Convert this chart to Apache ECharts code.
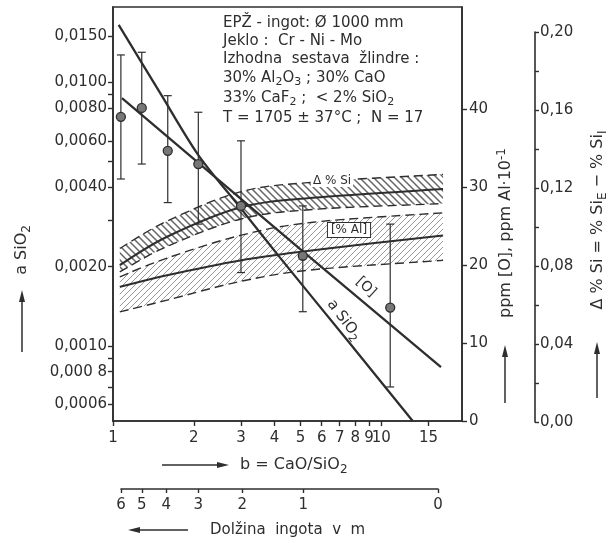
<!DOCTYPE html>
<html>
<head>
<meta charset="utf-8">
<script src="https://cdn.jsdelivr.net/npm/echarts@6/dist/echarts.min.js"></script>
<style>
html, body { margin: 0; padding: 0; background: #fff; }
#chart { width: 615px; height: 543px; }
</style>
</head>
<body>
<div id="chart"></div>
<script>
// axis ticks / labels
var bTicks = [1, 2, 3, 4, 5, 6, 7, 8, 9, 10, 15];
var aTicks = [0.0006, 0.0007, 0.0008, 0.0009, 0.001, 0.002, 0.003, 0.004, 0.005, 0.006, 0.008, 0.009, 0.01, 0.015];
var aLabels = [0.0006, 0.0008, 0.001, 0.002, 0.004, 0.006, 0.008, 0.01, 0.015];
var aLabelText = ['0,0006', '0,000 8', '0,0010', '0,0020', '0,0040', '0,0060', '0,0080', '0,0100', '0,0150'];
var ppmTicks = [0, 10, 20, 30, 40];
var dSiTicks = [0, 0.02, 0.04, 0.06, 0.08, 0.10, 0.12, 0.14, 0.16, 0.18, 0.20];
var dSiLabels = [0, 0.04, 0.08, 0.12, 0.16, 0.20];
// ingot length (m) and the b value it sits under
var lenTicks = [6, 5, 4, 3, 2, 1, 0];
var lenAtB = [1.07, 1.28, 1.58, 2.08, 3.03, 5.12, 16.3];

// measured a_SiO2: mean, lower, upper
var ptB = [1.07, 1.28, 1.6, 2.08, 3.0, 5.1, 10.8];
var ptA = [0.0074, 0.0080, 0.0055, 0.0049, 0.0034, 0.0022, 0.0014];
var ptLo = [0.0043, 0.0049, 0.0035, 0.0029, 0.0019, 0.00135, 0.0007];
var ptHi = [0.0127, 0.0130, 0.0089, 0.0077, 0.0060, 0.0034, 0.0029];

// a_SiO2 curve
var aLineB = [1.05, 1.5, 2.08, 2.98, 4.2, 7.66, 13.1];
var aLineV = [0.0165, 0.0091, 0.0053, 0.00335, 0.00216, 0.00102, 0.00052];
// [O] line (ppm)
var oLineB = [1.08, 5.0, 16.7];
var oLineV = [41.4, 22.0, 6.9];

// scatter bands: upper / middle / lower curve
var bandB = [1.06, 1.59, 2.98, 5.57, 17.0];
var dSiTop = [0.089, 0.103, 0.118, 0.123, 0.127];
var dSiMid = [0.0805, 0.095, 0.110, 0.115, 0.1195];
var dSiBot = [0.077, 0.090, 0.104, 0.109, 0.112];
var alTop = [18.5, 20.9, 23.8, 25.5, 26.7];
var alMid = [17.2, 18.7, 20.6, 21.9, 23.8];
var alBot = [14.0, 15.5, 17.9, 19.4, 20.6];

var ink = '#2e2e2e';
var font = 'DejaVu Sans';

function zip(xs, ys) { return xs.map(function (x, i) { return [x, ys[i]]; }); }
function comma(v, d) { return v.toFixed(d).replace('.', ','); }
function extend(o) { for (var i = 1; i < arguments.length; i++) { for (var k in arguments[i]) o[k] = arguments[i][k]; } return o; }

function hatch(dir, color, width, size) {
    var c = document.createElement('canvas');
    c.width = size; c.height = size;
    var ctx = c.getContext('2d');
    ctx.strokeStyle = color;
    ctx.lineWidth = width;
    ctx.beginPath();
    if (dir > 0) {
        ctx.moveTo(0, size); ctx.lineTo(size, 0);
        ctx.moveTo(-2, 2); ctx.lineTo(2, -2);
        ctx.moveTo(size - 2, size + 2); ctx.lineTo(size + 2, size - 2);
    } else {
        ctx.moveTo(0, 0); ctx.lineTo(size, size);
        ctx.moveTo(-2, size - 2); ctx.lineTo(2, size + 2);
        ctx.moveTo(size - 2, -2); ctx.lineTo(size + 2, 2);
    }
    ctx.stroke();
    return { image: c, repeat: 'repeat' };
}

// catmull-rom through pixel points -> svg path segment
function curve(pts, start) {
    var d = (start ? 'M' : 'L') + pts[0][0] + ',' + pts[0][1];
    for (var i = 0; i < pts.length - 1; i++) {
        var p0 = pts[Math.max(i - 1, 0)], p1 = pts[i], p2 = pts[i + 1], p3 = pts[Math.min(i + 2, pts.length - 1)];
        var c1 = [p1[0] + (p2[0] - p0[0]) / 6, p1[1] + (p2[1] - p0[1]) / 6];
        var c2 = [p2[0] - (p3[0] - p1[0]) / 6, p2[1] - (p3[1] - p1[1]) / 6];
        d += 'C' + c1[0] + ',' + c1[1] + ' ' + c2[0] + ',' + c2[1] + ' ' + p2[0] + ',' + p2[1];
    }
    return d;
}

function bandSeries(name, xi, yi, top, mid, bot, fill) {
    return {
        name: name, type: 'custom', xAxisIndex: xi, yAxisIndex: yi, silent: true, z: 2,
        data: [[bandB[0], mid[0]]],
        renderItem: function (params, api) {
            function px(vals) { return bandB.map(function (b, i) { return api.coord([b, vals[i]]); }); }
            var t = px(top), m = px(mid), lo = px(bot);
            var area = curve(t, true) + curve(lo.slice().reverse(), false) + 'Z';
            var dash = { stroke: ink, lineWidth: 1.4, lineDash: [9, 5], fill: null };
            return {
                type: 'group',
                children: [
                    { type: 'path', shape: { pathData: area }, style: { fill: fill, stroke: null } },
                    { type: 'path', shape: { pathData: curve(t, true) }, style: dash },
                    { type: 'path', shape: { pathData: curve(lo, true) }, style: dash },
                    { type: 'path', shape: { pathData: curve(m, true) }, style: { stroke: ink, lineWidth: 2, fill: null } }
                ]
            };
        }
    };
}

function renderErrorBar(params, api) {
    var b = api.value(0);
    var mid = api.coord([b, api.value(1)]);
    var lo = api.coord([b, api.value(2)]);
    var hi = api.coord([b, api.value(3)]);
    var st = { stroke: ink, lineWidth: 1.2 };
    return {
        type: 'group',
        children: [
            { type: 'line', shape: { x1: mid[0], y1: hi[1], x2: mid[0], y2: lo[1] }, style: st },
            { type: 'line', shape: { x1: mid[0] - 4, y1: hi[1], x2: mid[0] + 4, y2: hi[1] }, style: st },
            { type: 'line', shape: { x1: mid[0] - 4, y1: lo[1], x2: mid[0] + 4, y2: lo[1] }, style: st },
            { type: 'circle', shape: { cx: mid[0], cy: mid[1], r: 4.5 }, style: { fill: '#777', stroke: ink, lineWidth: 1.3 } }
        ]
    };
}

function arrow(x1, y1, x2, y2) {
    var dx = x2 - x1, dy = y2 - y1, len = Math.sqrt(dx * dx + dy * dy);
    var ux = dx / len, uy = dy / len;
    var bx = x2 - ux * 12, by = y2 - uy * 12;
    return [
        { type: 'line', shape: { x1: x1, y1: y1, x2: bx, y2: by }, style: { stroke: ink, lineWidth: 1.5 } },
        { type: 'polygon', shape: { points: [[x2, y2], [bx - uy * 3, by + ux * 3], [bx + uy * 3, by - ux * 3]] }, style: { fill: ink } }
    ];
}

function txt(x, y, text, opt) {
    opt = opt || {};
    var size = opt.size || 15;
    return {
        type: 'text', x: x, y: y, rotation: opt.rotation || 0, z: 10,
        style: {
            text: text, fill: ink, font: size + 'px "' + font + '"',
            align: opt.align || 'left', verticalAlign: 'middle',
            backgroundColor: opt.bg, padding: opt.pad, borderColor: opt.border, borderWidth: opt.border ? 1 : 0,
            rich: {
                s: { fontSize: size - 4, fontFamily: font, fill: ink, padding: [9, 0, 0, 0] },
                u: { fontSize: size - 4, fontFamily: font, fill: ink, padding: [0, 0, 8, 0] }
            }
        }
    };
}

var axisLineStyle = { show: true, lineStyle: { color: ink, width: 1.6 } };
var labelStyle = { color: ink, fontSize: 15, fontFamily: font };

var chart = echarts.init(document.getElementById('chart'));

var graphics = [
    txt(223, 23, 'EPŽ - ingot: Ø 1000 mm'),
    txt(223, 41, 'Jeklo :  Cr - Ni - Mo'),
    txt(223, 59, 'Izhodna  sestava  žlindre :'),
    txt(223, 78, '30% Al{s|2}O{s|3} ; 30% CaO'),
    txt(223, 98, '33% CaF{s|2} ;  < 2% SiO{s|2}'),
    txt(223, 118, 'T = 1705 ± 37°C ;  N = 17'),
    txt(344, 320, 'a SiO{s|2}', { align: 'center', rotation: -0.93, size: 15 }),
    txt(366, 287, '[O]', { align: 'center', rotation: -0.75, size: 14 }),
    txt(332, 181, 'Δ % Si', { align: 'center', size: 12, bg: '#fff', pad: [0, 2] }),
    txt(349, 230, '[% Al]', { align: 'center', size: 12, bg: '#fff', pad: [1, 3], border: ink }),
    txt(22, 250, 'a SiO{s|2}', { align: 'center', rotation: Math.PI / 2, size: 16 }),
    txt(240, 465, 'b = CaO/SiO{s|2}', { size: 16 }),
    txt(210, 530, 'Dolžina  ingota  v  m', { size: 15 }),
    txt(506, 233, 'ppm [O], ppm Al·10{u|-1}', { align: 'center', rotation: Math.PI / 2, size: 16 }),
    txt(598, 220, 'Δ % Si = % Si{s|E} − % Si{s|I}', { align: 'center', rotation: Math.PI / 2, size: 16 })
];
graphics = graphics
    .concat(arrow(22, 352, 22, 290))
    .concat(arrow(505, 403, 505, 345))
    .concat(arrow(597, 398, 597, 342))
    .concat(arrow(162, 465, 229, 465))
    .concat(arrow(188, 530, 128, 530));

var series = [
    bandSeries('dSi', 1, 2, dSiTop, dSiMid, dSiBot, hatch(-1, '#666', 1.5, 7)),
    bandSeries('Al', 0, 1, alTop, alMid, alBot, hatch(1, '#999', 1, 6)),
    { name: 'aSiO2', type: 'line', xAxisIndex: 0, yAxisIndex: 0, symbol: 'none', smooth: 0.3, data: zip(aLineB, aLineV), lineStyle: { color: ink, width: 2.3 }, z: 5 },
    { name: 'O', type: 'line', xAxisIndex: 0, yAxisIndex: 1, symbol: 'none', data: zip(oLineB, oLineV), lineStyle: { color: ink, width: 2.3 }, z: 5 },
    {
        name: 'meritve', type: 'custom', xAxisIndex: 0, yAxisIndex: 0, renderItem: renderErrorBar, z: 6,
        encode: { x: 0, y: [1, 2, 3] },
        data: ptB.map(function (b, i) { return [b, ptA[i], ptLo[i], ptHi[i]]; })
    }
];

chart.setOption({
    backgroundColor: '#fff',
    animation: false,
    grid: [
        { left: 113, top: 7, width: 349, height: 414, show: true, borderColor: ink, borderWidth: 1.6, backgroundColor: 'transparent' },
        { left: 113, top: 32, width: 349, height: 390 },
        { left: 121, top: 479, width: 317, height: 10 }
    ],
    xAxis: [
        {
            gridIndex: 0, type: 'log', min: 1, max: 20, axisLine: axisLineStyle, splitLine: { show: false },
            axisTick: { customValues: bTicks, length: 5, lineStyle: { color: ink, width: 1.4 } },
            axisLabel: extend({ customValues: bTicks, margin: 10 }, labelStyle)
        },
        { gridIndex: 1, type: 'log', min: 1, max: 20, show: false },
        {
            gridIndex: 2, type: 'log', min: lenAtB[0], max: lenAtB[lenAtB.length - 1], axisLine: axisLineStyle, splitLine: { show: false },
            axisTick: { customValues: lenAtB, length: 4, lineStyle: { color: ink, width: 1.4 } },
            axisLabel: extend({
                customValues: lenAtB, margin: 9,
                formatter: function (v) {
                    for (var i = 0; i < lenAtB.length; i++) if (Math.abs(lenAtB[i] - v) < 1e-6) return String(lenTicks[i]);
                    return '';
                }
            }, labelStyle)
        }
    ],
    yAxis: [
        {
            gridIndex: 0, type: 'log', position: 'left', min: 0.00052, max: 0.0193, axisLine: axisLineStyle, splitLine: { show: false },
            axisTick: { customValues: aTicks, length: 5, lineStyle: { color: ink, width: 1.4 } },
            axisLabel: extend({
                customValues: aLabels, margin: 6,
                formatter: function (v) {
                    for (var i = 0; i < aLabels.length; i++) if (Math.abs(aLabels[i] - v) < 1e-9) return aLabelText[i];
                    return '';
                }
            }, labelStyle)
        },
        {
            gridIndex: 0, type: 'value', position: 'right', min: 0, max: 53.1, axisLine: axisLineStyle, splitLine: { show: false },
            axisTick: { customValues: ppmTicks, length: 5, lineStyle: { color: ink, width: 1.4 } },
            axisLabel: extend({ customValues: ppmTicks, margin: 7 }, labelStyle)
        },
        {
            gridIndex: 1, type: 'value', position: 'right', offset: 73, min: 0, max: 0.2, axisLine: axisLineStyle, splitLine: { show: false },
            axisTick: { customValues: dSiTicks, length: 4, lineStyle: { color: ink, width: 1.4 } },
            axisLabel: extend({ customValues: dSiLabels, margin: 5, formatter: function (v) { return comma(v, 2); } }, labelStyle)
        },
        { gridIndex: 2, type: 'value', show: false }
    ],
    series: series,
    graphic: graphics
});
</script>
</body>
</html>
